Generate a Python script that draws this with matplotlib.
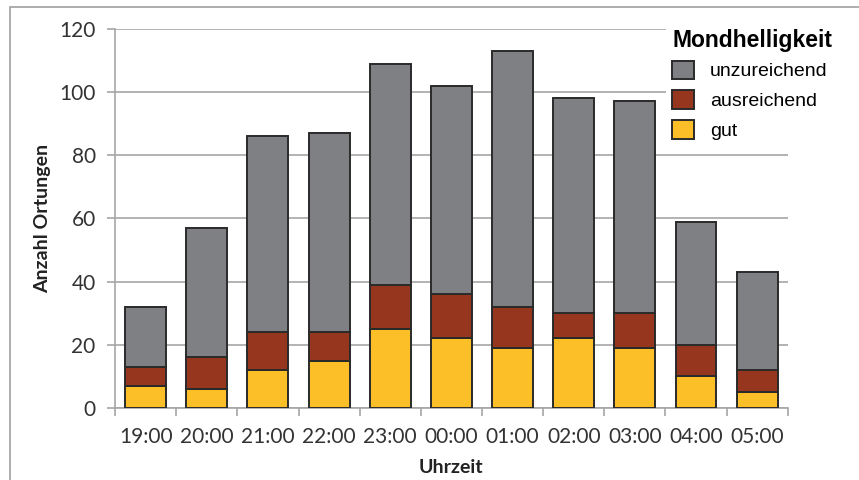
import numpy as np
import matplotlib
matplotlib.use("Agg")
from matplotlib import pyplot as plt
from matplotlib.patches import Rectangle

# data
hours = ["19:00", "20:00", "21:00", "22:00", "23:00", "00:00",
         "01:00", "02:00", "03:00", "04:00", "05:00"]
gut = [7, 6, 12, 15, 25, 22, 19, 22, 19, 10, 5]
ausreichend = [6, 10, 12, 9, 14, 14, 13, 8, 11, 10, 7]
unzureichend = [19, 41, 62, 63, 70, 66, 81, 68, 67, 39, 31]

col_gut = "#fdbf28"
col_aus = "#97361f"
col_unz = "#7f8083"
edge = "#2a2a2a"
axfont = "Lato"

fig = plt.figure(figsize=(8.59, 4.8), dpi=100)
ax = fig.add_axes([0.134, 0.15, 0.783, 0.79])

# light grey frame around the whole chart
fig.patches.append(Rectangle((10 / 859, -0.1), 1.0, 1.1 - 7 / 480,
                             transform=fig.transFigure, fill=False,
                             edgecolor="#a0a0a0", linewidth=1.2))

x = np.arange(len(hours))
w = 0.67
b1 = np.array(gut)
b2 = b1 + np.array(ausreichend)
ax.bar(x, gut, w, color=col_gut, edgecolor=edge, linewidth=1.4, label="gut", zorder=3)
ax.bar(x, ausreichend, w, bottom=b1, color=col_aus, edgecolor=edge, linewidth=1.4,
       label="ausreichend", zorder=3)
ax.bar(x, unzureichend, w, bottom=b2, color=col_unz, edgecolor=edge, linewidth=1.4,
       label="unzureichend", zorder=3)

ax.set_xlim(-0.5, len(hours) - 0.5)
ax.set_ylim(0, 120)
ax.set_yticks(range(0, 121, 20))
ax.set_xticks(x)
ax.set_xticklabels(hours)
ax.set_xticks(np.arange(-0.5, len(hours), 1.0), minor=True)

ax.grid(axis="y", color="#a6a6a6", linewidth=1.2, zorder=0)
for s in ["top", "right"]:
    ax.spines[s].set_visible(False)
for s in ["left", "bottom"]:
    ax.spines[s].set_color("#a6a6a6")
    ax.spines[s].set_linewidth(1.2)

ax.tick_params(axis="y", length=6, color="#a6a6a6", width=1.2, labelsize=15,
               labelcolor="#333333", pad=8)
ax.tick_params(axis="x", which="major", length=0, labelsize=15,
               labelcolor="#333333", pad=14)
ax.tick_params(axis="x", which="minor", length=6, color="#a6a6a6", width=1.2)
for t in ax.get_xticklabels() + ax.get_yticklabels():
    t.set_family(axfont)

ax.set_ylabel("Anzahl Ortungen", fontsize=14, fontweight="bold", family=axfont,
              color="#222222", labelpad=6)
ax.set_xlabel("Uhrzeit", fontsize=14, fontweight="bold", family=axfont,
              color="#222222", labelpad=8)

h, l = ax.get_legend_handles_labels()
leg = ax.legend(h[::-1], l[::-1], title="Mondhelligkeit", loc="upper left",
                bbox_to_anchor=(0.805, 1.04), frameon=True, framealpha=1,
                edgecolor="none", fancybox=False,
                prop={"family": "Liberation Sans", "size": 14},
                handlelength=1.15, handleheight=1.1, handletextpad=0.8,
                labelspacing=0.5, borderpad=0.3)
leg.get_title().set_fontweight("bold")
leg.get_title().set_fontsize(16.5)
leg.get_title().set_family("Liberation Sans")
leg._legend_box.align = "left"
leg._legend_box.sep = 6
leg.set_zorder(5)

fig.savefig("out.png", dpi=100)
